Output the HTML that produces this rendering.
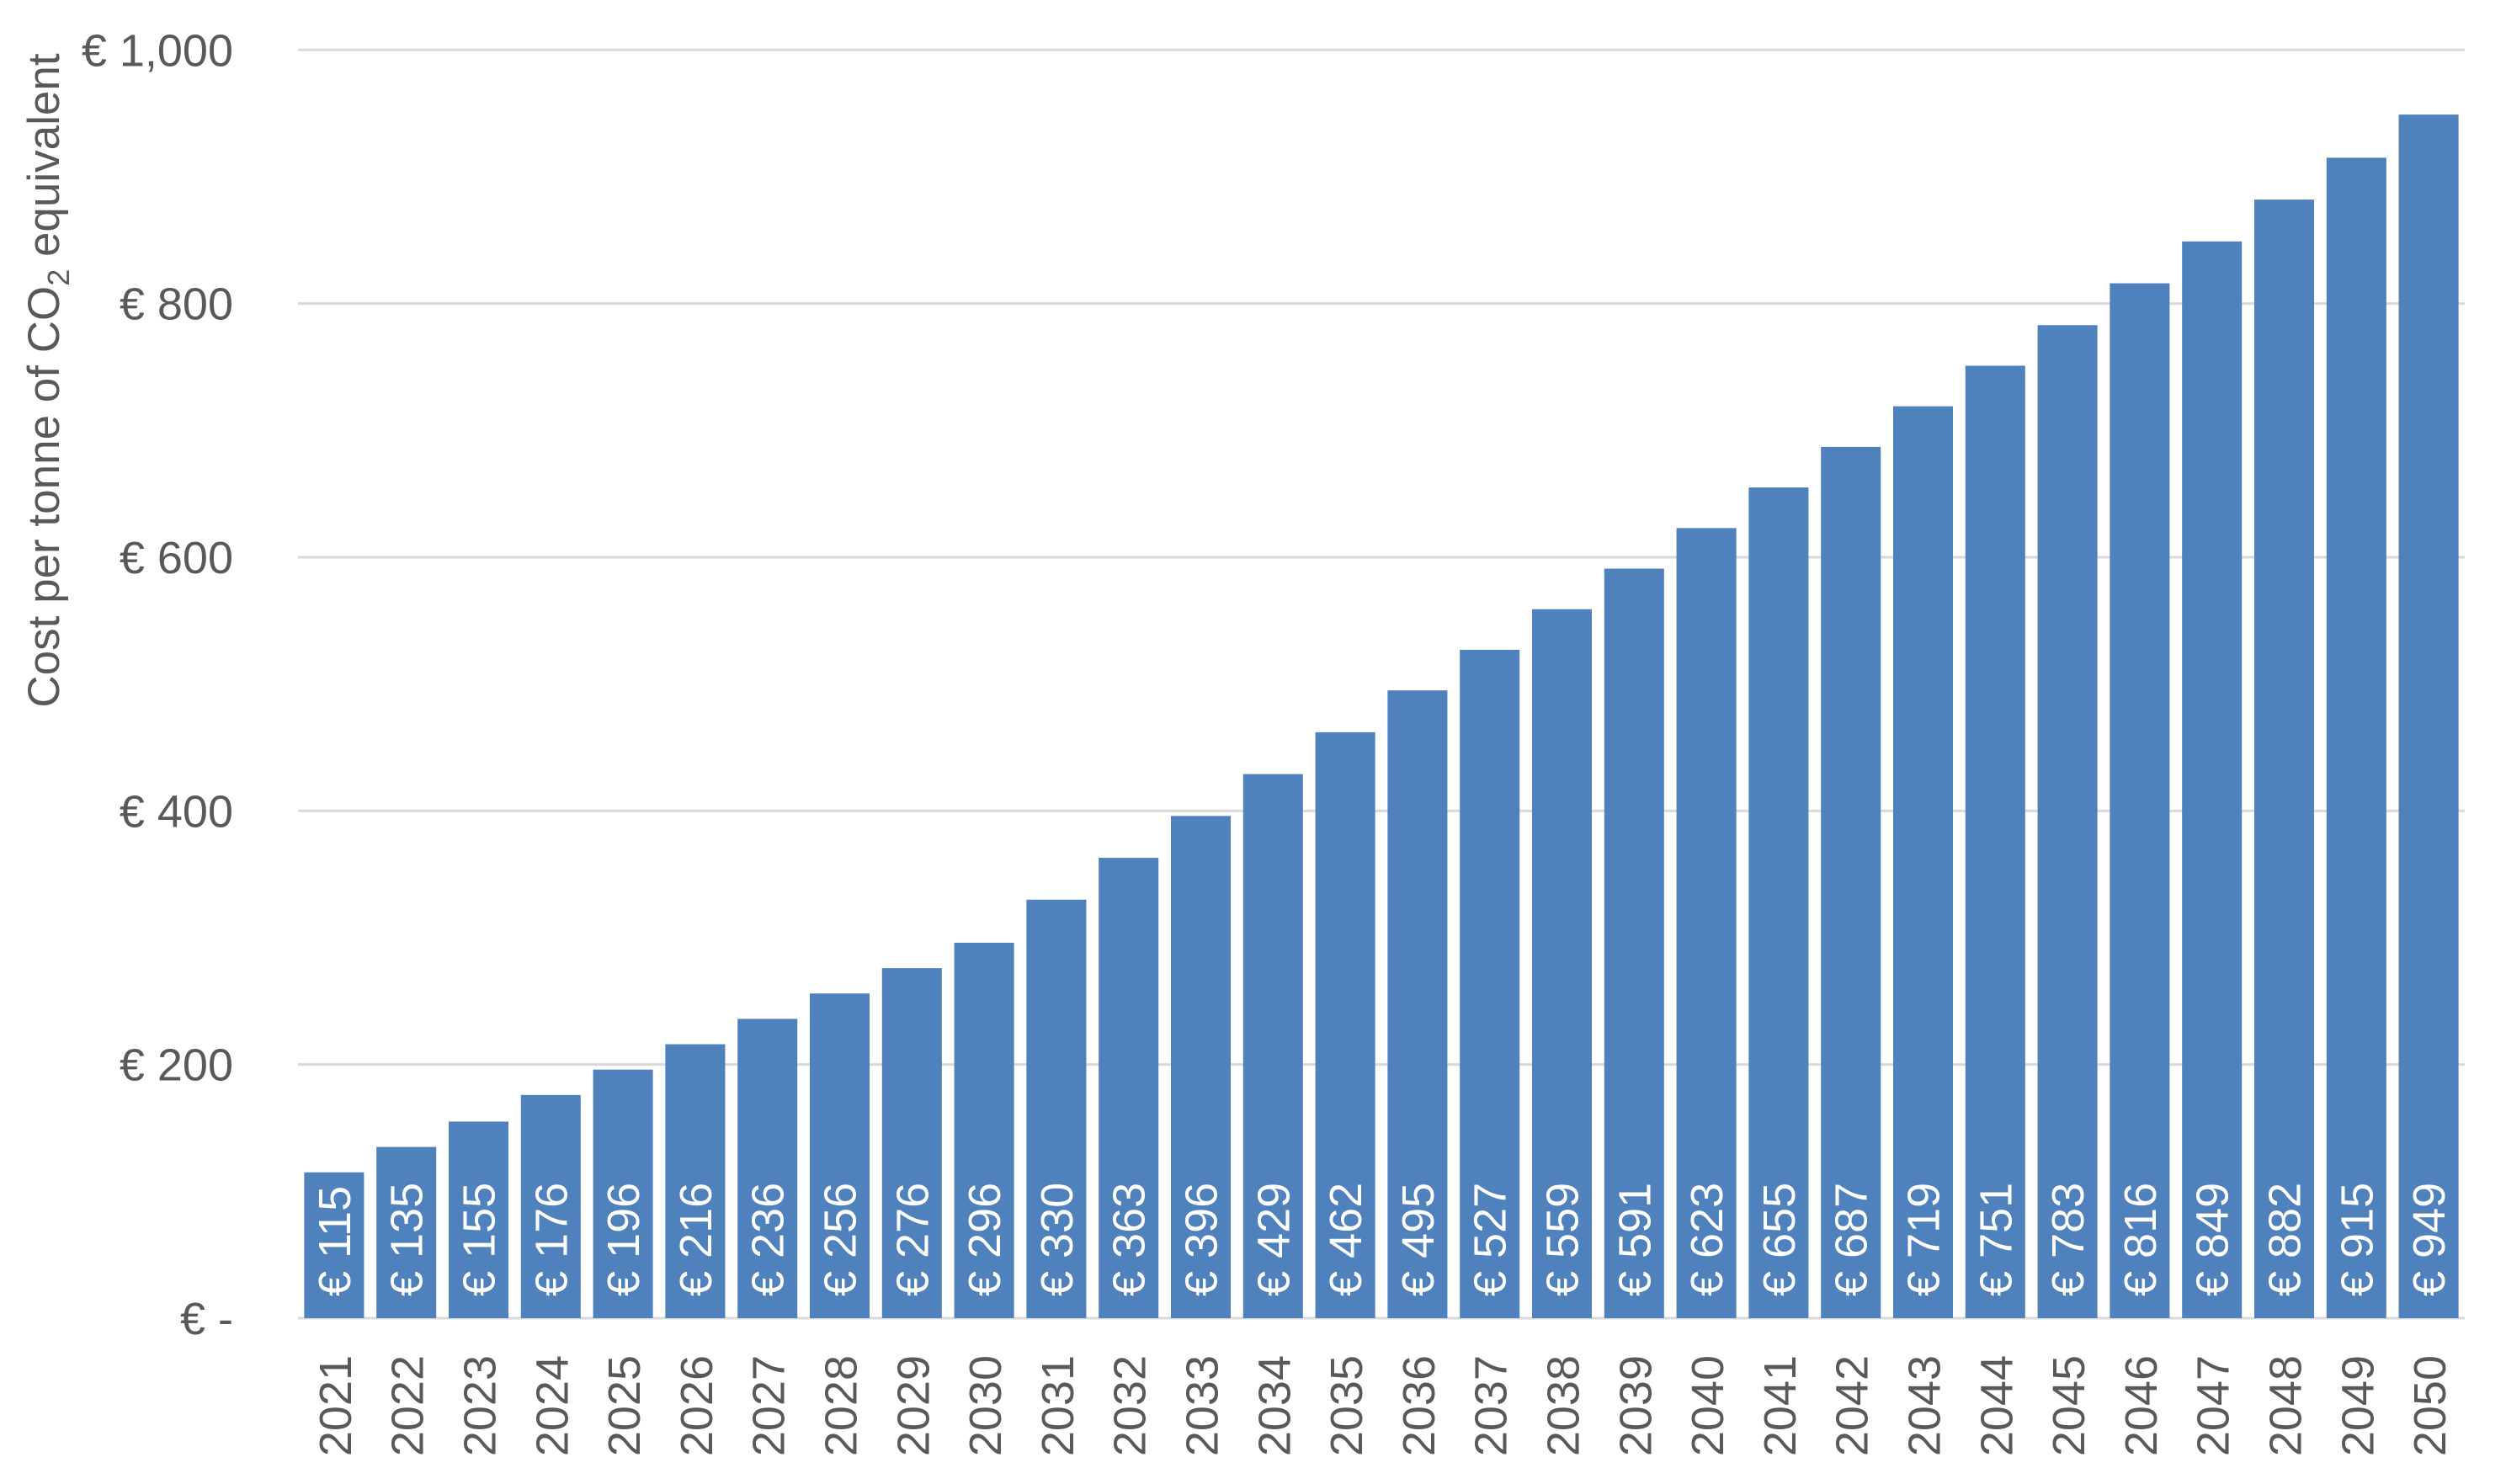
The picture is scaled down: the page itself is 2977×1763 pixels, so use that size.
<!DOCTYPE html>
<html><head><meta charset="utf-8"><style>
html,body{margin:0;padding:0;background:#fff;}
svg{display:block;font-family:"Liberation Sans",sans-serif;}
</style></head><body>
<svg id="chart" width="2977" height="1763" viewBox="0 0 2977 1763" xmlns="http://www.w3.org/2000/svg">
<g id="grid"></g>
<g id="yticks"></g>
<g id="bars"></g>
<g id="xticks"></g>
<text transform="translate(70,452) rotate(-90)" text-anchor="middle" font-size="53" fill="#595959">Cost per tonne of CO<tspan font-size="36" dy="12">2</tspan><tspan dy="-12"> equivalent</tspan></text>
</svg>
<script>
const categories = [2021,2022,2023,2024,2025,2026,2027,2028,2029,2030,2031,2032,2033,2034,2035,2036,2037,2038,2039,2040,2041,2042,2043,2044,2045,2046,2047,2048,2049,2050];
const values = [115,135,155,176,196,216,236,256,276,296,330,363,396,429,462,495,527,559,591,623,655,687,719,751,783,816,849,882,915,949];
const yTicks = [0,200,400,600,800,1000];
const yTickLabels = ["€ -","€ 200","€ 400","€ 600","€ 800","€ 1,000"];

const NS="http://www.w3.org/2000/svg";
const X0=354, X1=2928, Y0=1566, Y1=59.3, YMAX=1000;
const yScale=v=>Y0-(v/YMAX)*(Y0-Y1);
const band=(X1-X0)/categories.length;
const barW=band*0.828;
const xCenter=i=>X0+band*(i+0.5);
function mk(tag,attrs,parent){const e=document.createElementNS(NS,tag);for(const k in attrs)e.setAttribute(k,attrs[k]);parent.appendChild(e);return e;}
const grid=document.getElementById('grid'),yt=document.getElementById('yticks'),bars=document.getElementById('bars'),xt=document.getElementById('xticks');
yTicks.forEach((t,i)=>{
  const l=mk('line',{x1:X0,x2:X1,y1:yScale(t),y2:yScale(t),stroke:'#d9d9d9','stroke-width':3},grid);
  
  
  const tx=mk('text',{x:277,y:yScale(t)+19,'text-anchor':'end','font-size':54,fill:'#595959'},yt);
  tx.textContent=yTickLabels[i];
  
  
});
values.forEach((v,i)=>{
  const cx=xCenter(i), top=yScale(v);
  const r=mk('rect',{x:cx-barW/2,y:top,width:barW,height:Y0-top,fill:'#4f81bd'},bars);
  
  
  const lb=mk('text',{transform:`translate(${cx+19},${Y0-26}) rotate(-90)`,'font-size':54,fill:'#ffffff'},bars);
  lb.textContent='€ '+v;
  
  
  const yl=mk('text',{transform:`translate(${cx+20},${1610}) rotate(-90)`,'text-anchor':'end','font-size':54,fill:'#595959'},xt);
  yl.textContent=categories[i];
  
  
});
</script>
</body></html>
